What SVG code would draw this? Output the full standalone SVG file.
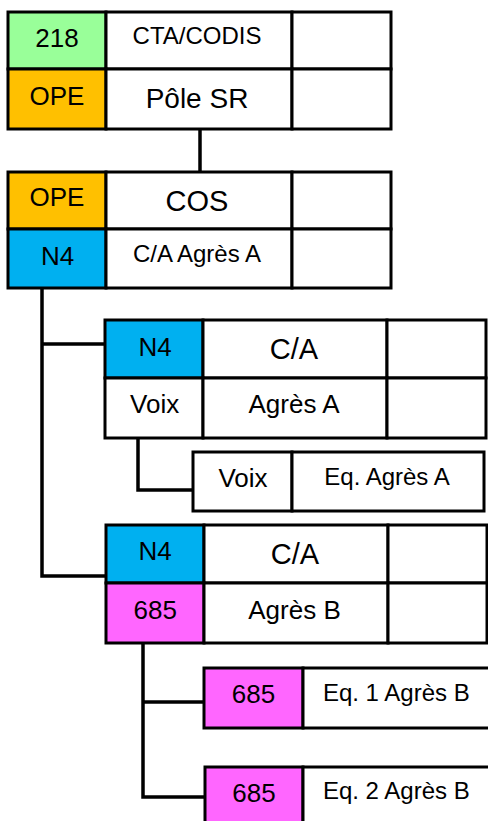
<svg xmlns="http://www.w3.org/2000/svg" width="488" height="821" viewBox="0 0 488 821">
<style>
.c{stroke:#000;stroke-width:3}
.w{fill:#fff}
.g{fill:#99FF99}
.o{fill:#FFC000}
.b{fill:#00B0F0}
.m{fill:#FF66FF}
.ln{stroke:#000;stroke-width:3.5;fill:none}
text{font-family:"Liberation Sans",Arial,sans-serif;fill:#000;text-anchor:middle}
.s24{font-size:24px}
.s26{font-size:26px}
.s28{font-size:28px}
.s29{font-size:29px}
</style>
<rect width="488" height="821" fill="#fff"/>
<g id="connectors">
<path class="ln" d="M200,129 V172"/>
<path class="ln" d="M42,288 V576 H106"/>
<path class="ln" d="M42,344 H105"/>
<path class="ln" d="M138,438 V490 H193"/>
<path class="ln" d="M143,643 V797 H205"/>
<path class="ln" d="M143,702 H204"/>
</g>
<g id="node-cta">
<rect class="c g" x="8" y="12" width="98" height="57"/>
<rect class="c w" x="106" y="12" width="186" height="57"/>
<rect class="c w" x="292" y="12" width="99" height="57"/>
<rect class="c o" x="8" y="69" width="98" height="60"/>
<rect class="c w" x="106" y="69" width="186" height="60"/>
<rect class="c w" x="292" y="69" width="99" height="60"/>
<text class="s26" x="57" y="46.5">218</text>
<text class="s24" x="197" y="44.3">CTA/CODIS</text>
<text class="s26" x="57" y="105">OPE</text>
<text class="s28" x="197" y="108.3">Pôle SR</text>
</g>
<g id="node-cos">
<rect class="c o" x="8" y="172" width="98" height="57"/>
<rect class="c w" x="106" y="172" width="186" height="57"/>
<rect class="c w" x="292" y="172" width="99" height="57"/>
<rect class="c b" x="8" y="229" width="98" height="59"/>
<rect class="c w" x="106" y="229" width="186" height="59"/>
<rect class="c w" x="292" y="229" width="99" height="59"/>
<text class="s26" x="57" y="206">OPE</text>
<text class="s29" x="197" y="210.5">COS</text>
<text class="s26" x="57.5" y="265">N4</text>
<text class="s24" x="197" y="261.7">C/A Agrès A</text>
</g>
<g id="node-ca-a">
<rect class="c b" x="105" y="320" width="98" height="58"/>
<rect class="c w" x="203" y="320" width="184" height="58"/>
<rect class="c w" x="387" y="320" width="99" height="58"/>
<rect class="c w" x="105" y="378" width="98" height="60"/>
<rect class="c w" x="203" y="378" width="184" height="60"/>
<rect class="c w" x="387" y="378" width="99" height="60"/>
<text class="s26" x="155" y="356.3">N4</text>
<text class="s29" x="294" y="358.7">C/A</text>
<text class="s26" x="154.7" y="413">Voix</text>
<text class="s26" x="294" y="413">Agrès A</text>
</g>
<g id="node-eq-a">
<rect class="c w" x="193" y="452" width="99" height="59"/>
<rect class="c w" x="292" y="452" width="192" height="59"/>
<text class="s26" x="243" y="486.7">Voix</text>
<text class="s24" x="387" y="485">Eq. Agrès A</text>
</g>
<g id="node-ca-b">
<rect class="c b" x="106" y="525" width="98" height="58"/>
<rect class="c w" x="204" y="525" width="184" height="58"/>
<rect class="c w" x="388" y="525" width="99" height="58"/>
<rect class="c m" x="106" y="583" width="98" height="60"/>
<rect class="c w" x="204" y="583" width="184" height="60"/>
<rect class="c w" x="388" y="583" width="99" height="60"/>
<text class="s26" x="155" y="560.3">N4</text>
<text class="s29" x="295" y="563.7">C/A</text>
<text class="s26" x="155.3" y="618.7">685</text>
<text class="s26" x="294.5" y="618.7">Agrès B</text>
</g>
<g id="node-eq1-b">
<rect class="c m" x="204" y="668" width="99" height="60"/>
<rect class="c w" x="303" y="668" width="190" height="60"/>
<text class="s26" x="253.5" y="703.3">685</text>
<text class="s24" x="396.3" y="700.7">Eq. 1 Agrès B</text>
</g>
<g id="node-eq2-b">
<rect class="c m" x="205" y="767" width="98" height="62"/>
<rect class="c w" x="303" y="767" width="190" height="62"/>
<text class="s26" x="254" y="801.7">685</text>
<text class="s24" x="396.3" y="799.3">Eq. 2 Agrès B</text>
</g>
</svg>
